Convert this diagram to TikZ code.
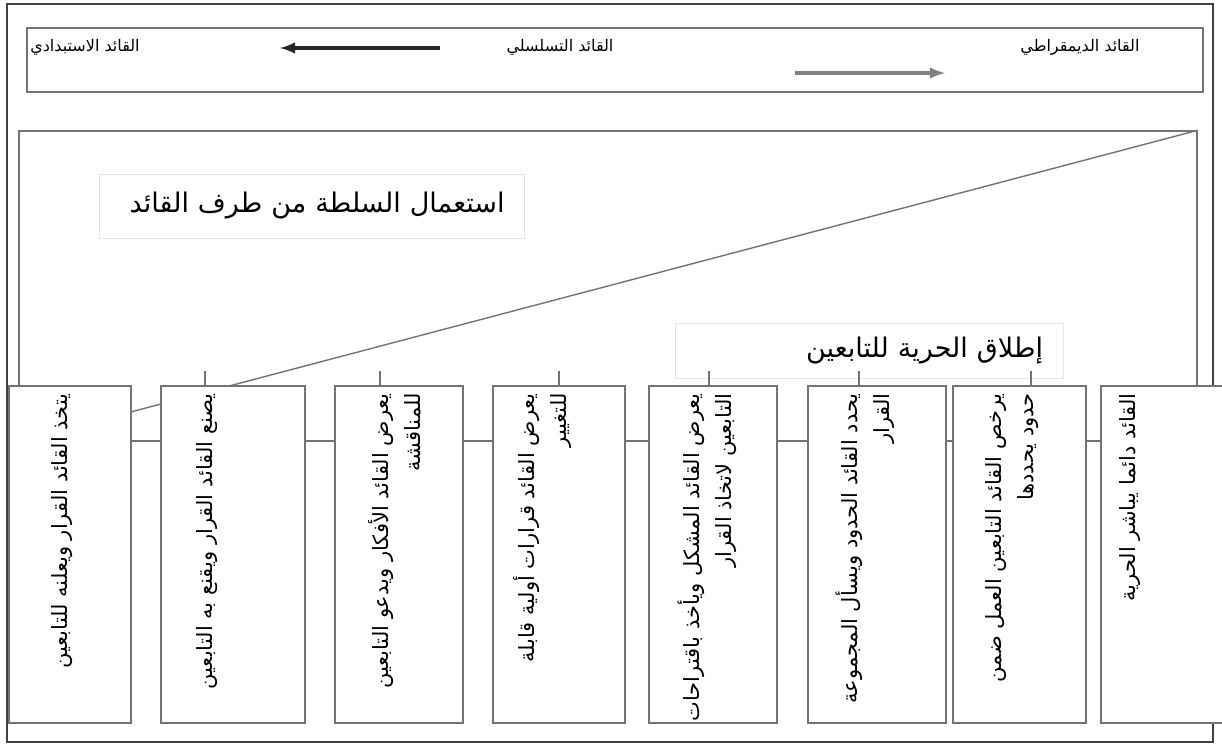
\documentclass[tikz,border=0pt]{standalone}
\usepackage{fontspec}
\setmainfont{DejaVu Sans}
\newfontfamily\arabicfont[Script=Arabic]{DejaVu Sans}
\TeXXeTstate=1
\usetikzlibrary{positioning}

\tikzset{
  frameline/.style={draw=black!75, line width=0.6pt},
  panelline/.style={draw=black!55, line width=0.7pt},
  panel/.style={panelline, fill=white, inner sep=0pt},
  stylebox/.style={panel, minimum height=168.5pt},
  boxtext/.style={rotate=90, anchor=east, align=right, inner sep=0pt,
    font=\arabicfont\fontsize{10.5}{16}\selectfont},
  toptext/.style={inner sep=0pt, font=\arabicfont\fontsize{8}{10}\selectfont},
  labelbox/.style={draw=black!10, line width=0.4pt, fill=white, inner xsep=10pt,
    align=right, font=\arabicfont\fontsize{13.5}{16}\selectfont},
  arrowline/.style={->, line width=1.6pt}
}

\begin{document}
\begin{tikzpicture}[x=0.5pt, y=-0.5pt, >=latex]
  \useasboundingbox[fill=white] (0,0) rectangle (1222,745);
  \draw[frameline] (7,4) rectangle (1213,742);

  \node[panel, minimum width=588pt, minimum height=32pt] (scale) at (615,60) {};
  \node[toptext] (despot) at (85,47) {\beginR القائد الاستبدادي\endR};
  \node[toptext] (chain) at (560,47) {\beginR القائد التسلسلي\endR};
  \node[toptext] (democ) at (1080,47) {\beginR القائد الديمقراطي\endR};
  \coordinate (leftfrom) at (440,48);
  \coordinate (leftto) at (280,48);
  \coordinate (rightfrom) at (795,73);
  \coordinate (rightto) at (945,73);
  \draw[arrowline, draw=black!85] (leftfrom) -- (leftto);
  \draw[arrowline, draw=black!50] (rightfrom) -- (rightto);

  \node[panelline, minimum width=589pt, minimum height=155pt] (power) at (608,286) {};
  \coordinate (slant) at (70,428);
  \draw[panelline] (power.north east) -- (slant);

  \node[labelbox, text width=192.5pt, minimum height=32pt] (authority) at (312,206)
    {\beginR استعمال السلطة من طرف القائد\endR};
  \node[labelbox, text width=174pt, minimum height=27.5pt] (freedom) at (869,351)
    {\beginR إطلاق الحرية للتابعين\endR};

  \node[stylebox, minimum width=61pt] (b1) at (70,554.5) {};
  \node[stylebox, minimum width=72pt] (b2) at (233,554.5) {};
  \node[stylebox, minimum width=64pt] (b3) at (399,554.5) {};
  \node[stylebox, minimum width=66pt] (b4) at (559,554.5) {};
  \node[stylebox, minimum width=64pt] (b5) at (713,554.5) {};
  \node[stylebox, minimum width=69pt] (b6) at (877,554.5) {};
  \node[stylebox, minimum width=66.5pt] (b7) at (1019.5,554.5) {};
  \node[stylebox, minimum width=69.5pt] (b8) at (1170.5,554.5) {};

  \draw[panelline] ([xshift=-14pt]b2.north) -- ++(0,-14);
  \draw[panelline] ([xshift=-9.5pt]b3.north) -- ++(0,-14);
  \draw[panelline] (b4.north) -- ++(0,-14);
  \draw[panelline] ([xshift=-2pt]b5.north) -- ++(0,-14);
  \draw[panelline] ([xshift=-9pt]b6.north) -- ++(0,-14);
  \draw[panelline] ([xshift=5.75pt]b7.north) -- ++(0,-14);

  \node[boxtext] (t1) at (62,393) {\beginR يتخذ القائد القرار ويعلنه للتابعين\endR};
  \node[boxtext] (t2) at (207,393) {\beginR يصنع القائد القرار ويقنع به التابعين\endR};
  \node[boxtext] (t3) at (395,393) {\beginR يعرض القائد الأفكار ويدعو التابعين\endR\\\beginR للمناقشة\endR};
  \node[boxtext] (t4) at (543,393) {\beginR يعرض القائد قرارات أولية قابلة\endR\\\beginR للتغيير\endR};
  \node[boxtext] (t5) at (707,393) {\beginR يعرض القائد المشكل ويأخذ باقتراحات\endR\\\beginR التابعين لاتخاذ القرار\endR};
  \node[boxtext] (t6) at (865,393) {\beginR يحدد القائد الحدود ويسأل المجموعة\endR\\\beginR القرار\endR};
  \node[boxtext] (t7) at (1012,393) {\beginR يرخص القائد التابعين العمل ضمن\endR\\\beginR حدود يحددها\endR};
  \node[boxtext] (t8) at (1130,393) {\beginR القائد دائما يباشر الحرية\endR};
\end{tikzpicture}
\end{document}
